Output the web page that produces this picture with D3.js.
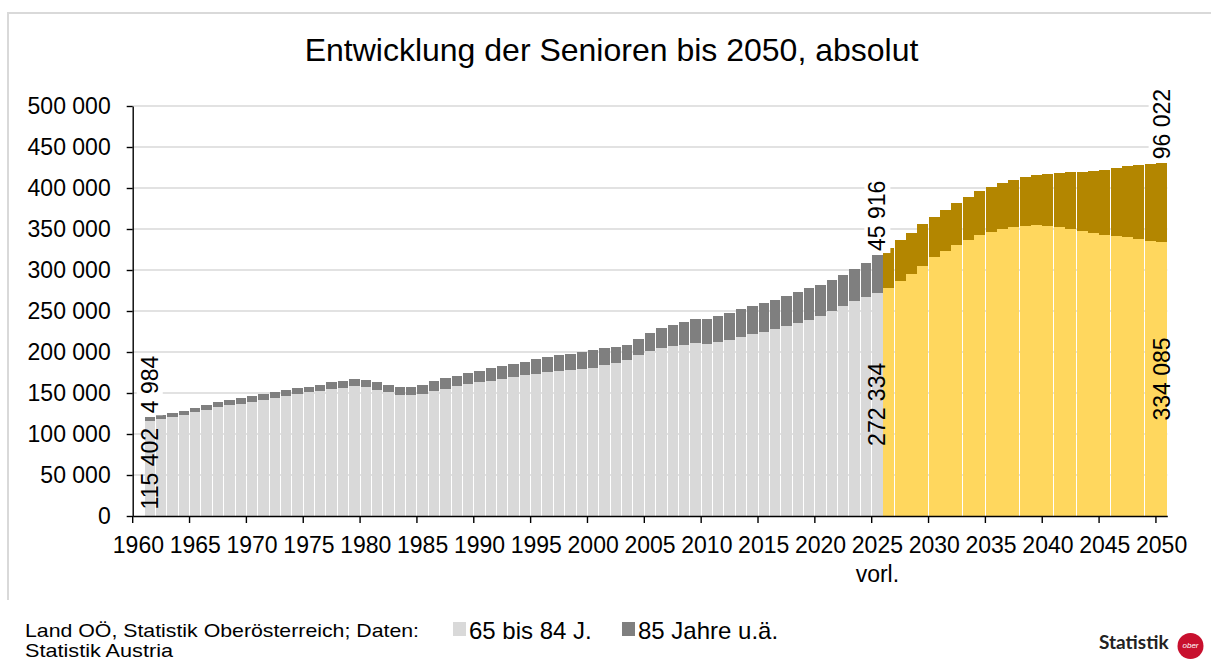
<!DOCTYPE html>
<html>
<head>
<meta charset="utf-8">
<script src="https://cdn.jsdelivr.net/npm/d3@7"></script>
<style>
  body { margin: 0; background: #fff; }
  text { font-family: "Liberation Sans", Arial, sans-serif; fill: #000; }
</style>
</head>
<body>
<div id="chart"></div>
<script>
// categories
const years = d3.range(1961, 2051);          // one bar per year
const axisYears = d3.range(1960, 2051);      // axis slots (1960 slot stays empty)
const tickYears = [1960, 1965, 1970, 1975, 1980, 1985, 1990, 1995, 2000, 2005,
                   2010, 2015, 2020, 2025, 2030, 2035, 2040, 2045, 2050];
const yTicks = [0, 50000, 100000, 150000, 200000, 250000, 300000, 350000, 400000, 450000, 500000];
const lastObserved = 2025;   // after this: projection
const labelYears = [1961, 2025, 2050];

// 65 bis 84 J.
const age65to84 = [
  115402, 117900, 120300, 123200, 126400, 129700, 132900, 135300, 137000, 139400,
  141800, 143900, 146700, 149200, 150800, 152400, 154900, 156500, 158500, 157700,
  154000, 150800, 147900, 147500, 148800, 152400, 155300, 158100, 160600, 163000,
  165000, 167500, 169500, 171500, 173200, 175200, 176400, 177600, 178900, 180900,
  184100, 187000, 189800, 196300, 201600, 205300, 207700, 209100, 210800, 209300,
  211800, 215000, 218300, 222000, 224400, 227600, 231300, 235000, 239400, 243900,
  249600, 256100, 262200, 267100, 272334, 278500, 286600, 295300, 305100, 316300,
  323600, 330900, 337000, 343100, 346700, 350400, 352800, 354100, 354900, 354100,
  352800, 350400, 348000, 345500, 343100, 341900, 340600, 338200, 335800, 334085
];
// 85 Jahre u.ä.
const age85plus = [
  4984, 4800, 4900, 5200, 5300, 5600, 6100, 6100, 6500, 6500,
  6600, 7300, 6500, 6500, 6900, 7300, 8100, 8500, 8100, 8500,
  9800, 8900, 9000, 9800, 11400, 11800, 12600, 13000, 13800, 14200,
  15100, 15000, 15900, 16300, 17900, 18300, 19500, 20400, 20700, 21100,
  21200, 19500, 18700, 19600, 21600, 24400, 25600, 27700, 29000, 30500,
  31700, 33000, 33700, 34500, 35400, 36200, 37000, 37800, 38200, 37800,
  38200, 37800, 39000, 41800, 45916, 47900, 50000, 49800, 51000, 48700,
  49600, 50800, 52000, 53200, 54500, 55700, 57400, 59300, 60900, 63000,
  65500, 69100, 71500, 75200, 79300, 82500, 86200, 89800, 93500, 96022
];

const width = 1211, height = 660;
const plot = { left: 132.7, right: 1167.3, top: 106, bottom: 516 };

const colors = {
  young: "#d9d9d9", old: "#7f7f7f",
  youngProj: "#ffd75e", oldProj: "#b38600"
};

const fmt = d3.formatLocale({ decimal: ",", thousands: " ", grouping: [3], currency: ["", ""] }).format(",d");

const data = years.map((yr, i) => ({ year: yr, a: age65to84[i], b: age85plus[i] }));

const svg = d3.select("#chart").append("svg")
    .attr("width", width)
    .attr("height", height)
    .attr("viewBox", [0, 0, width, height]);

// frame
svg.append("path")
    .attr("d", "M8,600V13H1211")
    .attr("fill", "none")
    .attr("stroke", "#d9d9d9")
    .attr("stroke-width", 2);

// title
svg.append("text")
    .attr("x", 611.5)
    .attr("y", 61)
    .attr("text-anchor", "middle")
    .style("font-size", "32px")
    .text("Entwicklung der Senioren bis 2050, absolut");

let x = d3.scaleBand()
    .domain(axisYears)
    .range([plot.left, plot.right])
    .padding(0);

let y = d3.scaleLinear()
    .domain([0, 500000])
    .range([plot.bottom, plot.top]);

// gridlines
svg.append("g")
    .selectAll("line")
    .data(yTicks.slice(1))
    .join("line")
    .attr("x1", plot.left)
    .attr("x2", plot.right)
    .attr("y1", d => y(d))
    .attr("y2", d => y(d))
    .attr("stroke", "#d9d9d9")
    .attr("stroke-width", 1.5);

// bars
const bw = x.bandwidth();
let bar = svg.append("g")
    .attr("shape-rendering", "crispEdges")
    .selectAll(".bar")
    .data(data)
    .join("g")
    .attr("class", "bar");

const gapOf = d => d.year > lastObserved ? 0.4 : 1;

bar.append("rect") // 65 bis 84
    .attr("x", d => x(d.year) + gapOf(d) / 2)
    .attr("width", d => bw - gapOf(d))
    .attr("y", d => y(d.a))
    .attr("height", d => y(0) - y(d.a))
    .attr("fill", d => d.year > lastObserved ? colors.youngProj : colors.young);

bar.append("rect") // 85+
    .attr("x", d => x(d.year) + gapOf(d) / 2)
    .attr("width", d => bw - gapOf(d))
    .attr("y", d => y(d.a + d.b))
    .attr("height", d => y(d.a) - y(d.a + d.b))
    .attr("fill", d => d.year > lastObserved ? colors.oldProj : colors.old);

// y axis
const yAxis = svg.append("g")
    .attr("transform", `translate(${plot.left},0)`)
    .call(d3.axisLeft(y).tickValues(yTicks).tickSize(6).tickSizeOuter(0).tickPadding(16).tickFormat(fmt));
yAxis.selectAll("text").style("font-size", "23px").attr("font-family", null);
yAxis.selectAll("line, path").attr("stroke", "#000").attr("stroke-width", 1.4);

// x axis (labels centred in slots, ticks at slot edges)
const xAxis = svg.append("g")
    .attr("transform", `translate(0,${plot.bottom})`)
    .call(d3.axisBottom(x).tickValues(tickYears).tickSize(0).tickSizeOuter(0).tickPadding(21).tickFormat(String));
xAxis.selectAll("text").style("font-size", "23px").attr("font-family", null);
xAxis.select(".domain").attr("stroke", "#000").attr("stroke-width", 1.4);
xAxis.selectAll(".tickmark")
    .data(tickYears)
    .join("line")
    .attr("class", "tickmark")
    .attr("x1", d => x(d))
    .attr("x2", d => x(d))
    .attr("y1", 0)
    .attr("y2", 7)
    .attr("stroke", "#000")
    .attr("stroke-width", 1.4);

svg.append("text")
    .attr("x", x(lastObserved) + bw / 2)
    .attr("y", 582)
    .attr("text-anchor", "middle")
    .style("font-size", "23px")
    .text("vorl.");

// data labels
const labelled = data.filter(d => labelYears.includes(d.year));
const lab = svg.append("g").selectAll("g").data(labelled).join("g");

lab.each(function(d) {
    const g = d3.select(this);
    const cx = x(d.year) + bw / 2;
    // 85+ label above the bar, on white
    const t = g.append("text")
        .attr("transform", `translate(${cx + 8},${y(d.a + d.b) - 4}) rotate(-90)`)
        .attr("text-anchor", "start")
        .style("font-size", "23px")
        .text(fmt(d.b));
    const bb = t.node().getBBox();
    g.insert("rect", "text")
        .attr("transform", t.attr("transform"))
        .attr("x", bb.x - 2)
        .attr("y", bb.y)
        .attr("width", bb.width + 4)
        .attr("height", bb.height)
        .attr("fill", "#fff");
    // 65-84 label centred on its segment
    g.append("text")
        .attr("transform", `translate(${cx + 8},${(y(0) + y(d.a)) / 2}) rotate(-90)`)
        .attr("text-anchor", "middle")
        .style("font-size", "23px")
        .text(fmt(d.a));
});

// footer
svg.append("text")
    .attr("x", 25)
    .attr("y", 637)
    .attr("textLength", 394)
    .attr("lengthAdjust", "spacingAndGlyphs")
    .style("font-size", "19px")
    .text("Land OÖ, Statistik Oberösterreich; Daten:");
svg.append("text")
    .attr("x", 25)
    .attr("y", 657)
    .attr("textLength", 148)
    .attr("lengthAdjust", "spacingAndGlyphs")
    .style("font-size", "19px")
    .text("Statistik Austria");

// legend
const legend = [
    { label: "65 bis 84 J.", color: colors.young, x: 453 },
    { label: "85 Jahre u.ä.", color: colors.old, x: 622 }
];
const lg = svg.append("g").selectAll("g").data(legend).join("g");
lg.append("rect")
    .attr("x", d => d.x)
    .attr("y", 622)
    .attr("width", 13)
    .attr("height", 14)
    .attr("fill", d => d.color);
lg.append("text")
    .attr("x", d => d.x + 16)
    .attr("y", 639)
    .style("font-size", "24px")
    .text(d => d.label);

// logo
svg.append("text")
    .attr("x", 1099)
    .attr("y", 649)
    .style("font-family", "Lato, 'Open Sans', sans-serif")
    .style("font-size", "19px")
    .style("font-weight", "700")
    .style("fill", "#222")
    .text("Statistik");
svg.append("circle")
    .attr("cx", 1190.5)
    .attr("cy", 646)
    .attr("r", 13)
    .attr("fill", "#c8102e");
svg.append("text")
    .attr("x", 1190.5)
    .attr("y", 648)
    .attr("text-anchor", "middle")
    .style("font-size", "8px")
    .style("font-style", "italic")
    .style("fill", "#fff")
    .text("ober");
</script>
</body>
</html>
